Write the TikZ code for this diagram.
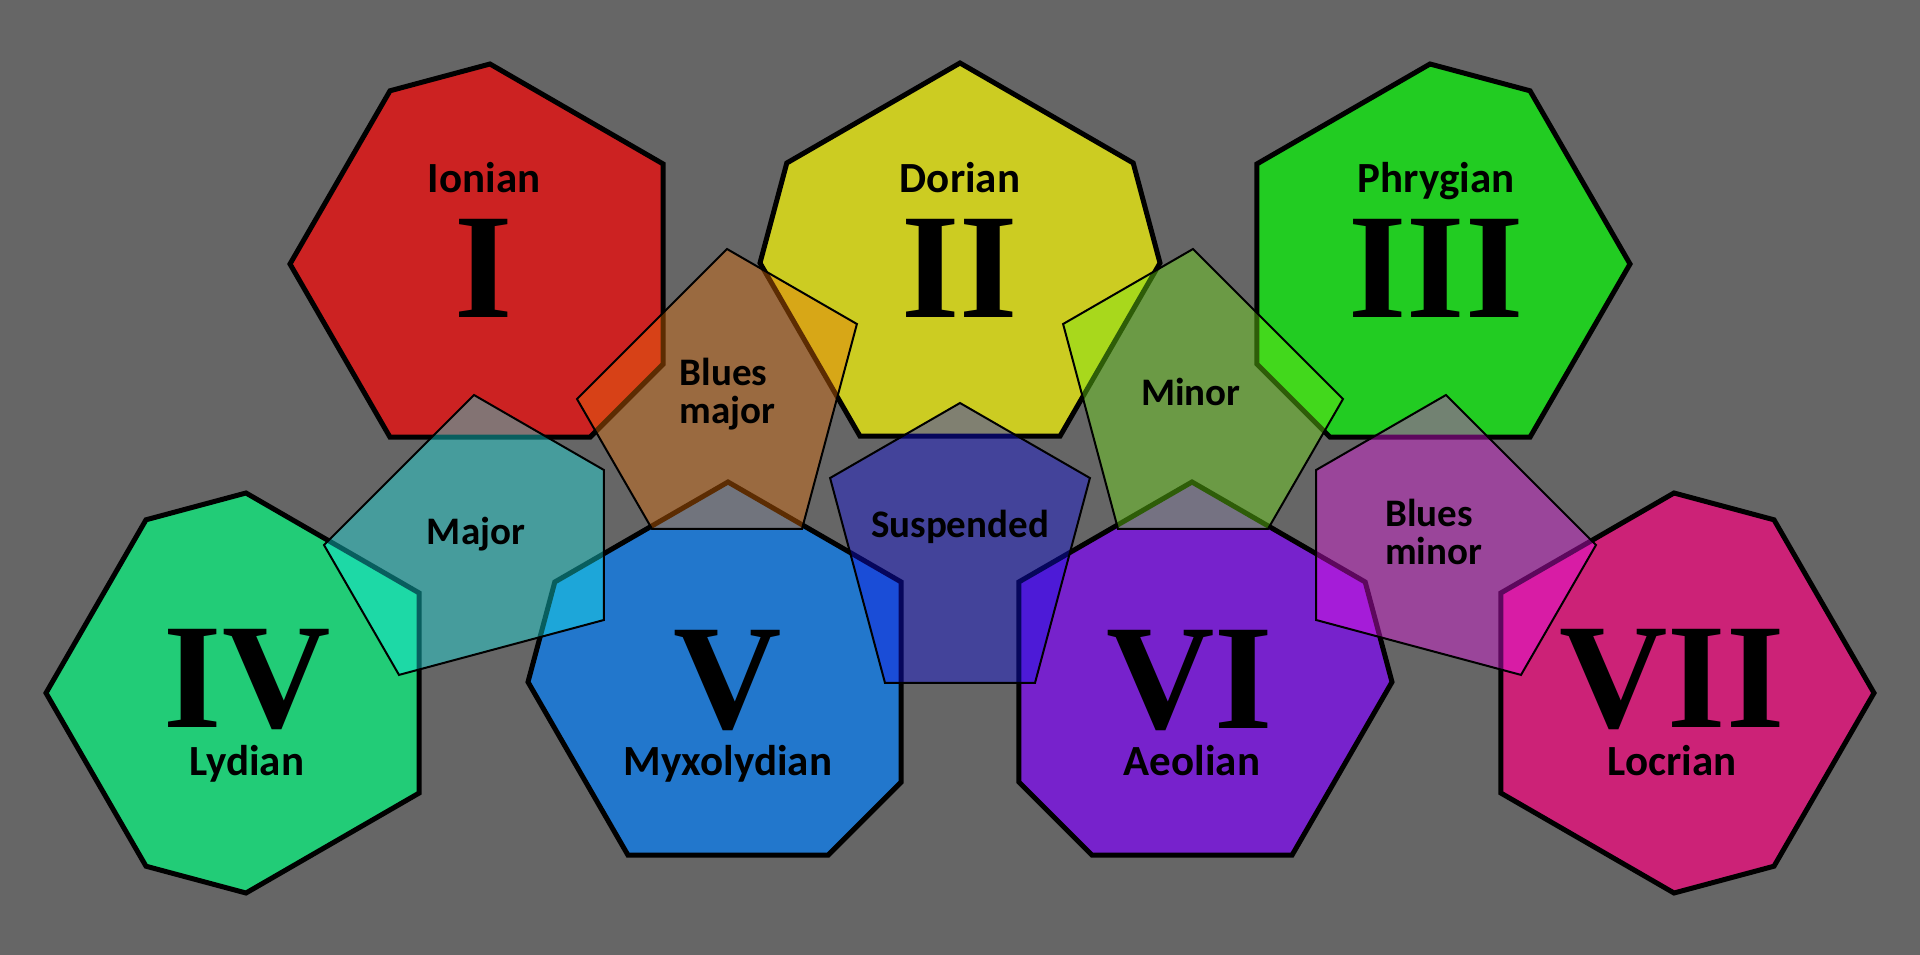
\documentclass[tikz,border=0pt]{standalone}
\usepackage{fontspec}
\setmainfont{Carlito}
\newfontfamily\numfont{Liberation Serif}
\definecolor{bg}{HTML}{666666}
\definecolor{cIonian}{HTML}{CC2222}
\definecolor{cDorian}{HTML}{CCCC22}
\definecolor{cPhrygian}{HTML}{22CC22}
\definecolor{cLydian}{HTML}{22CC77}
\definecolor{cMyxo}{HTML}{2277CC}
\definecolor{cAeolian}{HTML}{7722CC}
\definecolor{cLocrian}{HTML}{CC2277}
\definecolor{cMajor}{HTML}{16EDED}
\definecolor{cBluesMajor}{HTML}{E87007}
\definecolor{cSus}{HTML}{0F0FE8}
\definecolor{cMinor}{HTML}{73EA14}
\definecolor{cBluesMinor}{HTML}{EA14EA}
\begin{document}
\begin{tikzpicture}[x=1pt,y=1pt,
  hept/.style={draw=black, line width=5pt, line join=miter},
  pent/.style={draw=black, line width=2pt, fill opacity=0.4},
  modename/.style={font=\fontsize{43}{43}\selectfont\bfseries, anchor=base, inner sep=0pt},
  numeral/.style={font=\fontsize{150}{150}\selectfont\numfont\bfseries, anchor=base, inner sep=0pt},
  scalename/.style={font=\fontsize{39}{38}\selectfont\bfseries, anchor=base, inner sep=0pt},
  scalename2/.style={font=\fontsize{39}{38}\selectfont\bfseries, anchor=base west, inner sep=0pt, align=left}
  ]
\fill[bg] (0,0) rectangle (1920,-955);
% heptagons (modes)
\filldraw[hept, fill=cIonian, shift={(490,-264)}] (30:200) -- (90:200) -- (120:200) -- (180:200) -- (240:200) -- (300:200) -- (330:200) -- cycle;
\filldraw[hept, fill=cDorian, shift={(960,-263)}] (0:200) -- (30:200) -- (90:200) -- (150:200) -- (180:200) -- (240:200) -- (300:200) -- cycle;
\filldraw[hept, fill=cPhrygian, shift={(1430,-264)}] (0:200) -- (60:200) -- (90:200) -- (150:200) -- (210:200) -- (240:200) -- (300:200) -- cycle;
\filldraw[hept, fill=cLydian, shift={(246,-693)}] (30:200) -- (90:200) -- (120:200) -- (180:200) -- (240:200) -- (270:200) -- (330:200) -- cycle;
\filldraw[hept, fill=cMyxo, shift={(728,-682)}] (30:200) -- (90:200) -- (150:200) -- (180:200) -- (240:200) -- (300:200) -- (330:200) -- cycle;
\filldraw[hept, fill=cAeolian, shift={(1192,-682)}] (0:200) -- (30:200) -- (90:200) -- (150:200) -- (210:200) -- (240:200) -- (300:200) -- cycle;
\filldraw[hept, fill=cLocrian, shift={(1674,-693)}] (0:200) -- (60:200) -- (90:200) -- (150:200) -- (210:200) -- (270:200) -- (300:200) -- cycle;
% pentagons (scales)
\filldraw[pent, fill=cMajor, shift={(474,-545)}] (-120:150) -- (-30:150) -- (30:150) -- (90:150) -- (180:150) -- cycle;
\filldraw[pent, fill=cBluesMajor, shift={(727,-399)}] (-120:150) -- (-60:150) -- (30:150) -- (90:150) -- (180:150) -- cycle;
\filldraw[pent, fill=cSus, shift={(960,-553)}] (-120:150) -- (-60:150) -- (30:150) -- (90:150) -- (150:150) -- cycle;
\filldraw[pent, fill=cMinor, shift={(1193,-399)}] (0:150) -- (90:150) -- (150:150) -- (240:150) -- (300:150) -- cycle;
\filldraw[pent, fill=cBluesMinor, shift={(1446,-545)}] (0:150) -- (90:150) -- (150:150) -- (210:150) -- (300:150) -- cycle;
% mode labels
\node[modename] (tI) at (484,-192) {Ionian};
\node[numeral] (nI) at (484,-317) {I};
\node[modename] (tII) at (960,-192) {Dorian};
\node[numeral] (nII) at (960,-317) {II};
\node[modename] (tIII) at (1436,-192) {Phrygian};
\node[numeral] (nIII) at (1436,-317) {III};
\node[numeral] (nIV) at (247,-727) {IV};
\node[modename] (tIV) at (247,-775) {Lydian};
\node[numeral] (nV) at (728,-728) {V};
\node[modename] (tV) at (728,-775) {Myxolydian};
\node[numeral] (nVI) at (1190,-728) {VI};
\node[modename] (tVI) at (1192,-775) {Aeolian};
\node[numeral] (nVII) at (1672,-727) {VII};
\node[modename] (tVII) at (1672,-775) {Locrian};
% scale labels
\node[scalename] (sMajor) at (476,-544) {Major};
\node[scalename2] (sBluesMajor) at (679.5,-423) {Blues\\major};
\node[scalename] (sSus) at (960,-537) {Suspended};
\node[scalename] (sMinor) at (1191,-405) {Minor};
\node[scalename2] (sBluesMinor) at (1385,-564) {Blues\\minor};
\end{tikzpicture}
\end{document}
